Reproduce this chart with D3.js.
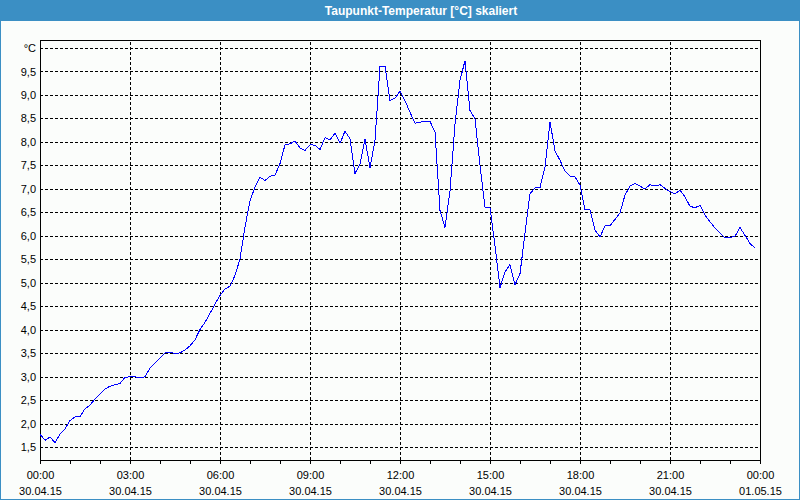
<!DOCTYPE html>
<html>
<head>
<meta charset="utf-8">
<script src="https://cdn.jsdelivr.net/npm/d3@7"></script>
<style>
  html, body { margin: 0; padding: 0; background: #fff; }
  svg { display: block; }
  text { font-family: "Liberation Sans", Arial, sans-serif; }
</style>
</head>
<body>
<script>
// ---- data ----
const title = "Taupunkt-Temperatur [°C] skaliert";
const startTime = new Date(2015, 3, 30, 0, 0);
const stepMinutes = 10;
const dewPoint = [
  1.78, 1.65, 1.72, 1.60, 1.78, 1.89, 2.07, 2.15, 2.15, 2.32, 2.40, 2.53,
  2.63, 2.74, 2.80, 2.83, 2.86, 2.99, 3.00, 3.00, 2.98, 3.00, 3.19, 3.29,
  3.40, 3.51, 3.52, 3.50, 3.51, 3.57, 3.66, 3.79, 4.01, 4.16, 4.35, 4.55,
  4.73, 4.87, 4.93, 5.16, 5.51, 6.19, 6.75, 7.04, 7.25, 7.18, 7.27, 7.29,
  7.54, 7.94, 7.96, 8.02, 7.87, 7.82, 7.94, 7.93, 7.84, 8.09, 8.04, 8.19,
  7.97, 8.23, 8.07, 7.33, 7.52, 8.06, 7.45, 8.03, 9.61, 9.61, 8.88, 8.93,
  9.08, 8.88, 8.63, 8.40, 8.42, 8.44, 8.44, 8.21, 6.54, 6.18, 6.96, 8.38,
  9.31, 9.73, 8.67, 8.49, 7.50, 6.61, 6.60, 5.79, 4.90, 5.23, 5.39, 4.96,
  5.20, 6.05, 6.90, 7.02, 7.03, 7.47, 8.43, 7.81, 7.61, 7.38, 7.27, 7.26,
  7.08, 6.56, 6.56, 6.12, 5.98, 6.21, 6.22, 6.35, 6.49, 6.87, 7.06, 7.12,
  7.06, 7.00, 7.09, 7.06, 7.09, 7.01, 6.94, 6.90, 6.97, 6.83, 6.63, 6.60,
  6.65, 6.44, 6.30, 6.17, 6.06, 5.96, 5.97, 5.99, 6.18, 6.01, 5.84, 5.74
];
const yTicks = [1.5, 2.0, 2.5, 3.0, 3.5, 4.0, 4.5, 5.0, 5.5, 6.0, 6.5, 7.0, 7.5, 8.0, 8.5, 9.0, 9.5, 10.0];
const yUnitLabel = "°C";
const xMajorHours = [0, 3, 6, 9, 12, 15, 18, 21, 24];

// ---- layout ----
const W = 800, H = 500;
const plot = { left: 40, right: 760, top: 40, bottom: 460 };
const blue = "#3b8fc4";

const points = dewPoint.map((v, i) => ({ t: d3.timeMinute.offset(startTime, i * stepMinutes), v }));
const endTime = d3.timeHour.offset(startTime, 24);

const x = d3.scaleTime().domain([startTime, endTime]).range([plot.left, plot.right]);
const y = d3.scaleLinear().domain([1.23, 10.17]).range([plot.bottom, plot.top]);

const svg = d3.select("body").append("svg").attr("width", W).attr("height", H);

// window frame
svg.append("rect").attr("x", 0).attr("y", 0).attr("width", W).attr("height", H).attr("fill", blue);
svg.append("rect").attr("x", 1).attr("y", 21).attr("width", W - 2).attr("height", H - 22).attr("fill", "#fbfdfb");
svg.append("text").attr("x", 421).attr("y", 15).attr("text-anchor", "middle")
  .attr("fill", "#fff").attr("font-weight", "bold").attr("font-size", 12).text(title);

// horizontal grid
const yGrid = svg.append("g").attr("transform", `translate(${plot.left},0)`)
  .call(d3.axisLeft(y).tickValues(yTicks).tickSize(-(plot.right - plot.left)).tickFormat(""));
yGrid.select(".domain").remove();
yGrid.selectAll("line").attr("stroke", "#000").attr("stroke-dasharray", "3,2").attr("shape-rendering", "crispEdges");

// vertical grid
const majorDates = xMajorHours.map(h => d3.timeHour.offset(startTime, h));
const xGrid = svg.append("g").attr("transform", `translate(0,${plot.bottom})`)
  .call(d3.axisBottom(x).tickValues(majorDates.slice(1, -1)).tickSize(-(plot.bottom - plot.top)).tickFormat(""));
xGrid.select(".domain").remove();
xGrid.selectAll("line").attr("stroke", "#000").attr("stroke-dasharray", "3,2").attr("shape-rendering", "crispEdges");

// y labels
const fmt = d3.format(".1f");
const yAx = svg.append("g").attr("transform", `translate(${plot.left},0)`)
  .call(d3.axisLeft(y).tickValues(yTicks).tickSize(0).tickPadding(4)
    .tickFormat(d => d === 10 ? yUnitLabel : fmt(d).replace(".", ",")));
yAx.select(".domain").remove();
yAx.selectAll("text").attr("font-size", 11).attr("fill", "#000").attr("font-family", "Liberation Sans, Arial, sans-serif");

// x minor ticks (hourly)
const hourly = d3.timeHour.range(startTime, d3.timeHour.offset(endTime, 1));
const xMinor = svg.append("g").attr("transform", `translate(0,${plot.bottom})`)
  .call(d3.axisBottom(x).tickValues(hourly).tickSize(4).tickFormat(""));
xMinor.select(".domain").remove();
xMinor.selectAll("line").attr("stroke", "#000").attr("shape-rendering", "crispEdges");

// x labels
const tf = d3.timeFormat("%H:%M"), df = d3.timeFormat("%d.%m.%y");
const xAx = svg.append("g").attr("transform", `translate(0,${plot.bottom})`)
  .call(d3.axisBottom(x).tickValues(majorDates).tickSize(0).tickFormat(""));
xAx.select(".domain").remove();
xAx.selectAll(".tick").each(function(d) {
  const g = d3.select(this);
  g.append("text").attr("y", 19).attr("text-anchor", "middle").attr("font-size", 11).attr("fill", "#000").text(tf(d));
  g.append("text").attr("y", 35).attr("text-anchor", "middle").attr("font-size", 11).attr("fill", "#000").text(df(d));
});

// plot frame
svg.append("rect").attr("x", plot.left + 0.5).attr("y", plot.top + 0.5)
  .attr("width", plot.right - plot.left).attr("height", plot.bottom - plot.top)
  .attr("fill", "none").attr("stroke", "#000").attr("shape-rendering", "crispEdges");

// data line
const line = d3.line().x(d => x(d.t)).y(d => y(d.v));
svg.append("path").datum(points).attr("d", line)
  .attr("fill", "none").attr("stroke", "#0000ff").attr("stroke-width", 1)
  .attr("shape-rendering", "crispEdges");
</script>
</body>
</html>
